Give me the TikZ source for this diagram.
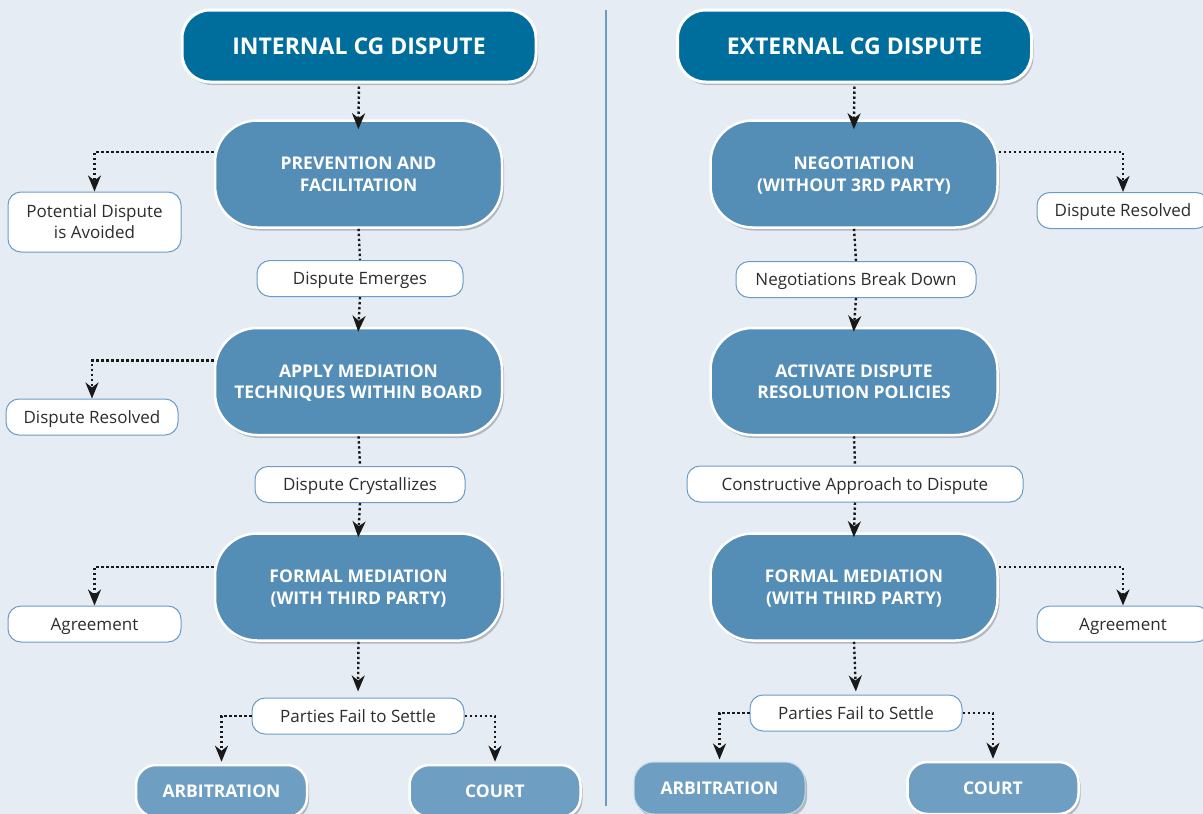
\documentclass[tikz,border=0pt]{standalone}
\usepackage{fontspec}
\setmainfont{Open Sans}
\usetikzlibrary{arrows.meta,shadows}
\definecolor{bgblue}{RGB}{229,236,244}
\definecolor{headblue}{RGB}{0,110,156}
\definecolor{stageblue}{RGB}{84,142,182}
\definecolor{endblue}{RGB}{110,158,193}
\definecolor{lineblue}{RGB}{106,156,198}
\definecolor{notetext}{RGB}{45,45,45}
\tikzset{
  boxshadow/.style={drop shadow={shadow xshift=2pt,shadow yshift=-3pt,fill=black,opacity=.22}},
  headbox/.style={rectangle,rounded corners=28pt,fill=headblue,draw=white,line width=3pt,
    minimum width=354pt,minimum height=72pt,text=white,boxshadow,
    font=\bfseries\fontsize{23}{27}\selectfont},
  stagebox/.style={rectangle,rounded corners=42pt,fill=stageblue,draw=white,line width=2.5pt,
    minimum width=287pt,minimum height=107pt,text=white,align=center,boxshadow,text depth=0pt,
    font=\bfseries\fontsize{17.5}{21.5}\selectfont},
  endbox/.style={rectangle,rounded corners=20pt,fill=endblue,draw=white,line width=2.5pt,
    minimum width=171pt,minimum height=52pt,text=white,boxshadow,
    font=\bfseries\fontsize{17.5}{21}\selectfont},
  notebox/.style={rectangle,rounded corners=13pt,fill=white,draw=lineblue,line width=1pt,
    minimum height=36pt,text=notetext,align=center,inner sep=0pt,text depth=0pt,
    font=\fontsize{17}{21}\selectfont},
  dotline/.style={draw=black!90,line width=2.4pt,dash pattern=on 2.4pt off 2.6pt},
  dotarrow/.style={dotline,-{Stealth[length=16pt,width=13pt,inset=5pt]}},
}
\begin{document}
\begin{tikzpicture}[x=1pt,y=-1pt]
\fill[bgblue] (0,0) rectangle (1203,814);
\useasboundingbox (0,0) rectangle (1203,814);
\clip (0,0) rectangle (1203,814);
\draw[lineblue,line width=1.2pt] (606,10) -- (606,806);
% internal side
\node[headbox] (intern) at (359,46) {INTERNAL CG DISPUTE};
\node[stagebox] (prevent) at (358.5,174) {PREVENTION AND\\FACILITATION};
\node[notebox,minimum width=173pt,minimum height=60pt] (avoided) at (94.5,222) {Potential Dispute\\is Avoided};
\node[notebox,minimum width=206pt] (emerge) at (360,278.5) {Dispute Emerges};
\node[stagebox] (mediate) at (358.5,381.5) {APPLY MEDIATION\\TECHNIQUES WITHIN BOARD};
\node[notebox,minimum width=172pt] (resolvedA) at (92,417) {Dispute Resolved};
\node[notebox,minimum width=210pt] (crystal) at (360,484.5) {Dispute Crystallizes};
\node[stagebox] (formalA) at (358.5,587) {FORMAL MEDIATION\\(WITH THIRD PARTY)};
\node[notebox,minimum width=173pt] (agreeA) at (94.5,624) {Agreement};
\node[notebox,minimum width=212pt] (failA) at (358,716) {Parties Fail to Settle};
\node[endbox] (arbitA) at (221.5,791) {ARBITRATION};
\node[endbox] (courtA) at (495,791) {COURT};
% external side
\node[headbox] (extern) at (854.5,46) {EXTERNAL CG DISPUTE};
\node[stagebox] (negot) at (854,174) {NEGOTIATION\\(WITHOUT 3RD PARTY)};
\node[notebox,minimum width=172pt] (resolvedB) at (1123,210.5) {Dispute Resolved};
\node[notebox,minimum width=240pt] (breakdown) at (856,279.5) {Negotiations Break Down};
\node[stagebox] (activate) at (854,381.5) {ACTIVATE DISPUTE\\RESOLUTION POLICIES};
\node[notebox,minimum width=336pt] (construct) at (855,484) {Constructive Approach to Dispute};
\node[stagebox] (formalB) at (854,587) {FORMAL MEDIATION\\(WITH THIRD PARTY)};
\node[notebox,minimum width=172pt] (agreeB) at (1123,624) {Agreement};
\node[notebox,minimum width=212pt] (failB) at (856,713) {Parties Fail to Settle};
\node[endbox,draw=white!60!endblue,line width=1pt] (arbitB) at (719.5,788) {ARBITRATION};
\node[endbox] (courtB) at (993,788) {COURT};
% connectors, internal
\draw[dotarrow,shorten <=3pt,shorten >=-10pt] (intern.south) -- (prevent.north);
\draw[dotarrow] ([yshift=22pt]prevent.west) -| (avoided.north);
\draw[dotline] (prevent.south) -- (emerge.north);
\draw[dotarrow,shorten >=-5pt] (emerge.south) -- (mediate.north);
\draw[dotarrow] ([yshift=21pt]mediate.west) -| (resolvedA.north);
\draw[dotline] (mediate.south) -- (crystal.north);
\draw[dotarrow,shorten >=-5pt] (crystal.south) -- (formalA.north);
\draw[dotarrow] ([yshift=20pt]formalA.west) -| (agreeA.north);
\draw[dotarrow,shorten >=6pt] (formalA.south) -- (failA.north);
\draw[dotarrow,shorten >=2pt] (failA.west) -| (arbitA.north);
\draw[dotarrow,shorten >=2pt] (failA.east) -| (courtA.north);
% connectors, external
\draw[dotarrow,shorten <=3pt,shorten >=-10pt] (extern.south) -- (negot.north);
\draw[dotarrow] ([yshift=22pt]negot.east) -| (resolvedB.north);
\draw[dotline] (negot.south) -- (breakdown.north);
\draw[dotarrow,shorten >=-5pt] (breakdown.south) -- (activate.north);
\draw[dotline] (activate.south) -- (construct.north);
\draw[dotarrow,shorten >=-5pt] (construct.south) -- (formalB.north);
\draw[dotarrow] ([yshift=20pt]formalB.east) -| (agreeB.north);
\draw[dotarrow,shorten >=3pt] (formalB.south) -- (failB.north);
\draw[dotarrow,shorten >=2pt] (failB.west) -| (arbitB.north);
\draw[dotarrow,shorten >=2pt] (failB.east) -| (courtB.north);
\end{tikzpicture}
\end{document}
